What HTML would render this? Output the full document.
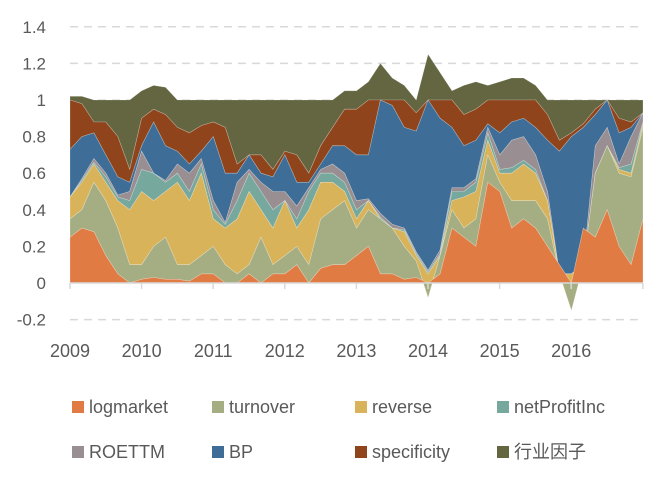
<!DOCTYPE html>
<html><head><meta charset="utf-8"><style>
body{margin:0;background:#fff;}
svg text{font-family:"Liberation Sans","Noto Sans CJK SC",sans-serif;fill:#595959;}
</style></head><body>
<svg id="chart" width="648" height="474" viewBox="0 0 648 474" xmlns="http://www.w3.org/2000/svg">
<g id="grid"></g>
<g id="areas"></g>
<g id="axes"></g>
<g id="legend"></g>
</svg>
<script>
const seriesNames = ["logmarket","turnover","reverse","netProfitInc","ROETTM","BP","specificity","行业因子"];
const seriesColors = ["#E07B43","#A5AE82","#D9B35A","#76A89E","#998E91","#3E6E97","#8F441C","#636640"];
const yTicks = [-0.2,0,0.2,0.4,0.6,0.8,1,1.2,1.4];
const yTickLabels = ["-0.2","0","0.2","0.4","0.6","0.8","1","1.2","1.4"];
const xTickLabels = ["2009","2010","2011","2012","2013","2014","2015","2016"];
// bimonthly samples, 2009-01 .. 2017-01
const logmarket = [.25,.30,.28,.15,.05,0,.02,.03,.02,.02,.01,.05,.05,0,0,.05,0,.05,.05,.10,0,.08,.10,.10,.15,.20,.05,.05,.02,.03,0,.05,.30,.25,.20,.55,.50,.30,.35,.30,.20,.10,0,.30,.25,.40,.20,.10,.35];
const turnover = [.10,.10,.27,.30,.25,.10,.08,.17,.23,.08,.09,.10,.15,.10,.05,.05,.25,.05,.10,.10,.10,.27,.30,.35,.15,.20,.30,.25,.18,.09,-.08,.10,.10,.05,.15,.15,.05,.15,.10,.15,.15,-.05,-.15,-.20,.35,.35,.40,.48,.50];
const reverse = [.12,.15,.10,.10,.15,.30,.40,.25,.25,.45,.35,.45,.15,.20,.30,.40,.15,.20,.30,.10,.30,.20,.15,.05,.05,.05,0,0,.08,.03,.13,0,.05,.17,.15,.08,.05,.15,.20,.15,.10,0,.20,0,0,0,.02,.02,.02];
const netProfitInc = [0,.01,.01,.03,.02,.05,.12,.15,.05,.05,.05,.05,.05,.02,.10,.10,.10,.10,0,.05,.10,.05,.05,.05,.05,0,.01,0,.01,.01,.01,.01,.05,.03,.05,.04,.02,.03,.02,.02,0,0,0,0,0,0,.01,.05,.01];
const ROETTM = [0,.01,.02,.02,.01,.05,.10,0,.01,.05,.10,.03,.05,.01,.10,.02,.05,.10,.05,.07,.02,.02,.05,.05,.05,.01,.02,.02,.01,.01,.01,.02,.02,.02,.02,.03,.08,.15,.13,.08,.05,0,0,0,.15,.10,.02,.15,.05];
const BP = [.26,.23,.14,.10,.10,.05,.03,.28,.19,.07,.05,.04,.35,.27,.05,.08,.05,.08,.20,.13,.03,.03,.10,.15,.25,.24,.62,.65,.55,.66,.93,.72,.33,.23,.21,.02,.12,.10,.10,.15,.28,.67,.75,.75,.17,.15,.17,.05,0];
const specificity = [.27,.18,.06,.18,.22,.07,.15,.07,.17,.13,.17,.14,.08,.25,.05,0,.10,.04,.02,.15,.05,.10,.10,.20,.25,.30,0,.03,.15,.10,0,.10,.15,.17,.17,.13,.18,.12,.10,.15,.14,.06,.02,.02,.03,0,.08,.03,0];
const industry = [.02,.04,.12,.12,.20,.38,.15,.13,.15,.15,.18,.14,.12,.15,.35,.30,.30,.38,.28,.30,.40,.25,.15,.10,.10,.10,.20,.12,.08,.07,.25,.15,.05,.16,.15,.08,.10,.12,.12,.08,.08,.22,.18,.13,.05,0,.10,.12,.07];
const seriesValues = [logmarket,turnover,reverse,netProfitInc,ROETTM,BP,specificity,industry];

const NS="http://www.w3.org/2000/svg";
const x0=70, x1=643, yZero=283, yPerUnit=183;
const n=logmarket.length;
function xPos(i){return x0+(x1-x0)*i/(n-1);}
function yPos(v){return yZero-v*yPerUnit;}
function yearX(k){return x0+k*71.6;}
function mk(tag,attrs,parent){const e=document.createElementNS(NS,tag);for(const k in attrs)e.setAttribute(k,attrs[k]);parent.appendChild(e);return e;}

const grid=document.getElementById('grid');
yTicks.forEach((t,i)=>{
  if(t!==0){
    const l=mk('line',{x1:x0,x2:x1,y1:yPos(t),y2:yPos(t),stroke:'#D9D9D9','stroke-width':1.5,'stroke-dasharray':'8,6'},grid);
    
    
  }
});

const areas=document.getElementById('areas');
let base=new Array(n).fill(0);
const paths=[];
seriesValues.forEach((vals,s)=>{
  const top=base.map((b,i)=>b+vals[i]);
  let d='M'+top.map((v,i)=>xPos(i).toFixed(1)+','+yPos(v).toFixed(1)).join('L');
  for(let i=n-1;i>=0;i--) d+='L'+xPos(i).toFixed(1)+','+yPos(base[i]).toFixed(1);
  d+='Z';
  paths.push(d);
  base=top;
});
for(let s=paths.length-1;s>=0;s--){
  const p=mk('path',{d:paths[s],fill:seriesColors[s],stroke:'rgba(255,255,255,0.35)','stroke-width':0.6},areas);
  
  
}

const axes=document.getElementById('axes');
const ax=mk('line',{x1:x0,x2:x1,y1:yZero,y2:yZero,stroke:'#D9D9D9','stroke-width':1.5},axes);


for(let k=0;k<=8;k++){
  const t=mk('line',{x1:yearX(k),x2:yearX(k),y1:yZero,y2:yZero+6,stroke:'#D9D9D9','stroke-width':1.5},axes);
  
  
}
xTickLabels.forEach((lab,k)=>{
  const t=mk('text',{x:yearX(k),y:357,'text-anchor':'middle','font-size':18},axes);
  t.textContent=lab;
  
  
});
yTicks.forEach((v,i)=>{
  const t=mk('text',{x:46,y:yPos(v)+6,'text-anchor':'end','font-size':17},axes);
  t.textContent=yTickLabels[i];
  
  
});

const legend=document.getElementById('legend');
const lx=[72,212,355,497], ly=[408,453];
seriesNames.forEach((nm,i)=>{
  const cx=lx[i%4], cy=ly[Math.floor(i/4)];
  const g=mk('g',{},legend);
  
  
  mk('rect',{x:cx,y:cy-7,width:12,height:12,fill:seriesColors[i]},g);
  const t=mk('text',{x:cx+17,y:cy+5,'font-size':18},g);
  t.textContent=nm;
});
</script>
</body></html>
